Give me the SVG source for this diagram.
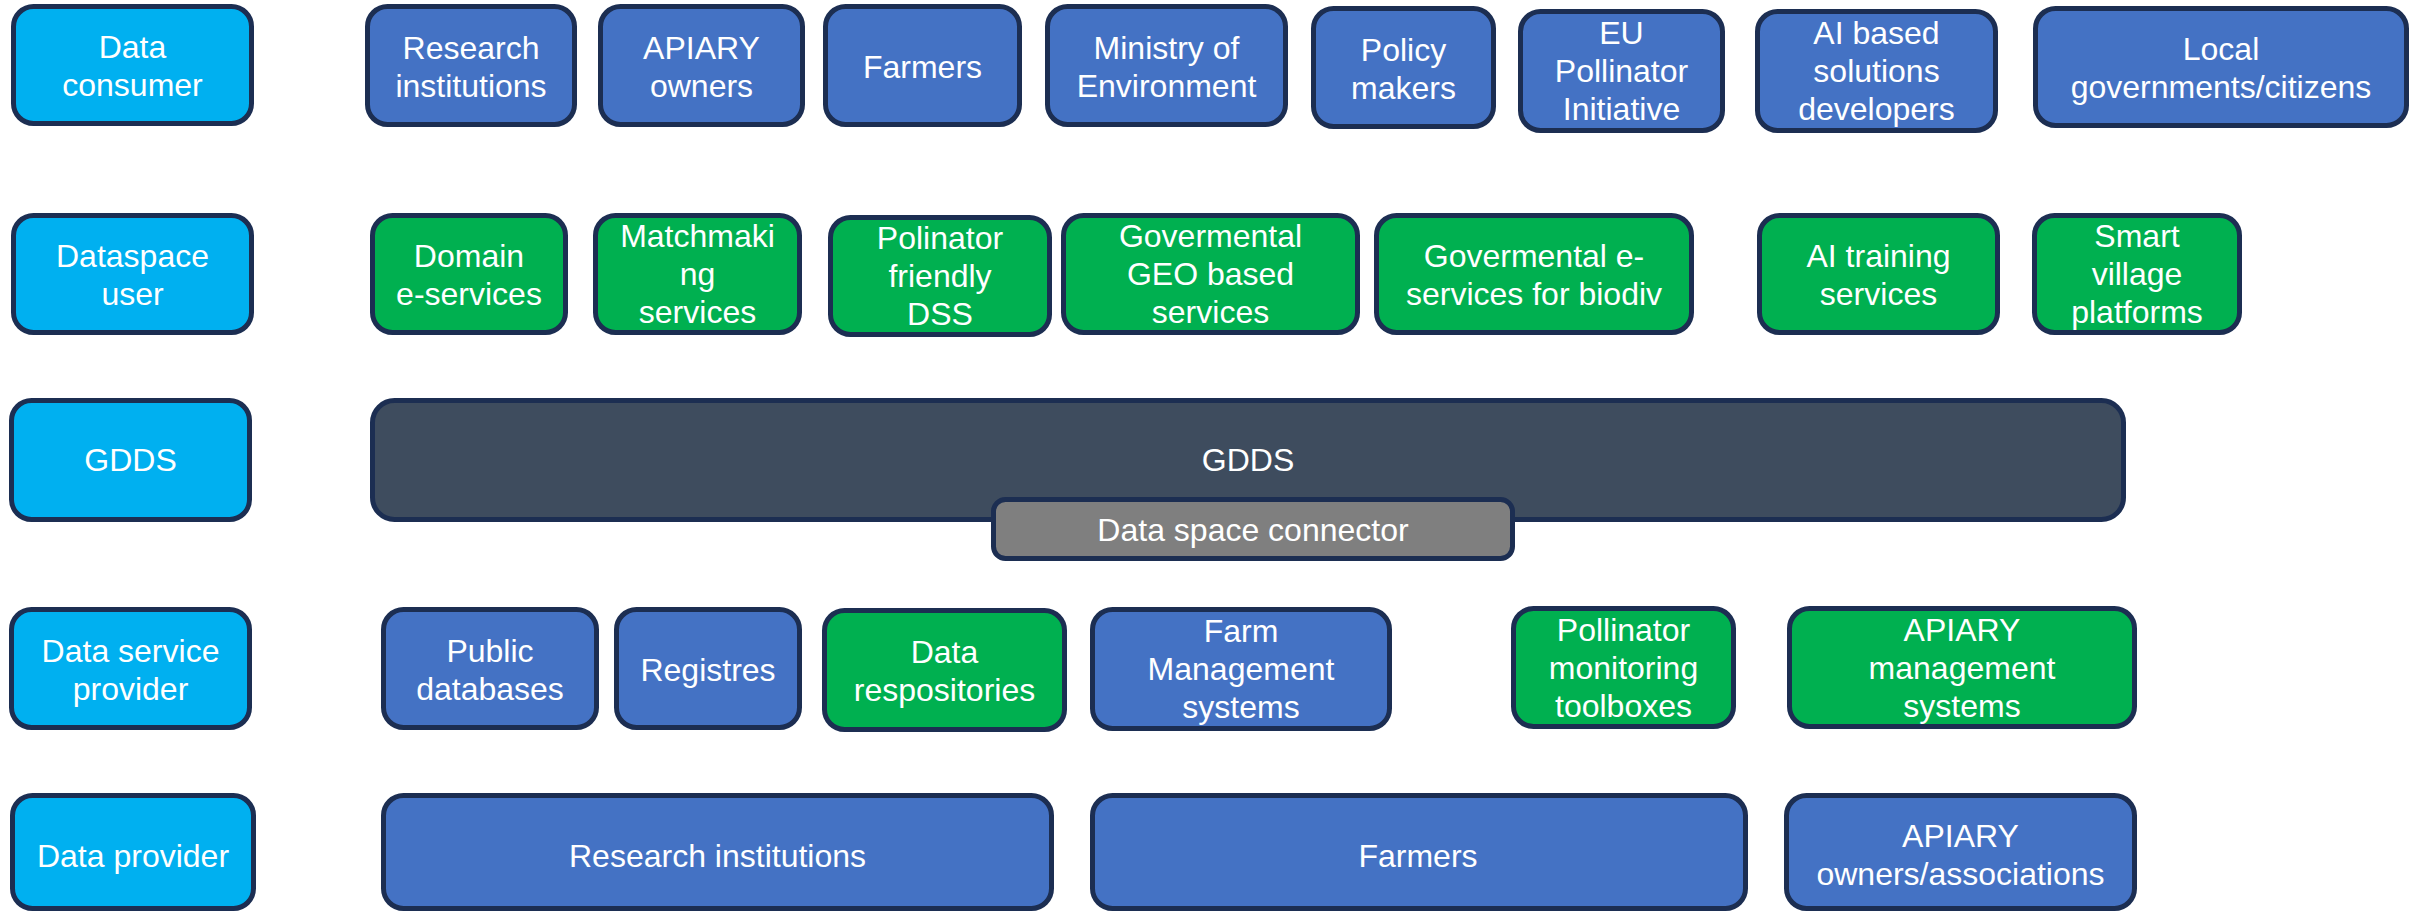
<svg xmlns="http://www.w3.org/2000/svg" width="2413" height="912" viewBox="0 0 2413 912">
  <style>
    g rect { stroke: #1C2E52; stroke-width: 5; }
    .role { fill: #00B0F0; }
    .actor { fill: #4472C4; }
    .svc { fill: #00B050; }
    .core { fill: #3E4C5E; }
    .conn { fill: #7F7F7F; }
    text { font-family: "Liberation Sans", Arial, sans-serif; font-size: 32px; fill: #FFFFFF; text-anchor: middle; }
  </style>
  <rect x="0" y="0" width="2413" height="912" fill="#FFFFFF"/>

  <!-- Row 1: data consumers -->
  <g id="data-consumer">
    <rect class="role" x="13.5" y="6.5" width="238" height="117" rx="20"/>
    <text><tspan x="132.5" y="58">Data</tspan><tspan x="132.5" y="96">consumer</tspan></text>
  </g>
  <g id="consumer-research">
    <rect class="actor" x="367.5" y="6.5" width="207" height="118" rx="20"/>
    <text><tspan x="471" y="58.5">Research</tspan><tspan x="471" y="96.5">institutions</tspan></text>
  </g>
  <g id="consumer-apiary">
    <rect class="actor" x="600.5" y="6.5" width="202" height="118" rx="20"/>
    <text><tspan x="701.5" y="58.5">APIARY</tspan><tspan x="701.5" y="96.5">owners</tspan></text>
  </g>
  <g id="consumer-farmers">
    <rect class="actor" x="825.5" y="6.5" width="194" height="118" rx="20"/>
    <text x="922.5" y="77.5">Farmers</text>
  </g>
  <g id="consumer-ministry">
    <rect class="actor" x="1047.5" y="6.5" width="238" height="118" rx="20"/>
    <text><tspan x="1166.5" y="58.5">Ministry of</tspan><tspan x="1166.5" y="96.5">Environment</tspan></text>
  </g>
  <g id="consumer-policy">
    <rect class="actor" x="1313.5" y="8.5" width="180" height="118" rx="20"/>
    <text><tspan x="1403.5" y="60.5">Policy</tspan><tspan x="1403.5" y="98.5">makers</tspan></text>
  </g>
  <g id="consumer-eu">
    <rect class="actor" x="1520.5" y="11.5" width="202" height="119" rx="20"/>
    <text><tspan x="1621.5" y="44">EU</tspan><tspan x="1621.5" y="82">Pollinator</tspan><tspan x="1621.5" y="120">Initiative</tspan></text>
  </g>
  <g id="consumer-ai">
    <rect class="actor" x="1757.5" y="11.5" width="238" height="119" rx="20"/>
    <text><tspan x="1876.5" y="44">AI based</tspan><tspan x="1876.5" y="82">solutions</tspan><tspan x="1876.5" y="120">developers</tspan></text>
  </g>
  <g id="consumer-local">
    <rect class="actor" x="2035.5" y="8.5" width="371" height="117" rx="20"/>
    <text><tspan x="2221" y="60">Local</tspan><tspan x="2221" y="98">governments/citizens</tspan></text>
  </g>

  <!-- Row 2: dataspace users -->
  <g id="dataspace-user">
    <rect class="role" x="13.5" y="215.5" width="238" height="117" rx="20"/>
    <text><tspan x="132.5" y="267">Dataspace</tspan><tspan x="132.5" y="305">user</tspan></text>
  </g>
  <g id="user-domain">
    <rect class="svc" x="372.5" y="215.5" width="193" height="117" rx="20"/>
    <text><tspan x="469" y="267">Domain</tspan><tspan x="469" y="305">e-services</tspan></text>
  </g>
  <g id="user-matchmaking">
    <rect class="svc" x="595.5" y="215.5" width="204" height="117" rx="20"/>
    <text><tspan x="697.5" y="247">Matchmaki</tspan><tspan x="697.5" y="285">ng</tspan><tspan x="697.5" y="323">services</tspan></text>
  </g>
  <g id="user-dss">
    <rect class="svc" x="830.5" y="217.5" width="219" height="117" rx="20"/>
    <text><tspan x="940" y="249">Polinator</tspan><tspan x="940" y="287">friendly</tspan><tspan x="940" y="325">DSS</tspan></text>
  </g>
  <g id="user-geo">
    <rect class="svc" x="1063.5" y="215.5" width="294" height="117" rx="20"/>
    <text><tspan x="1210.5" y="247">Govermental</tspan><tspan x="1210.5" y="285">GEO based</tspan><tspan x="1210.5" y="323">services</tspan></text>
  </g>
  <g id="user-biodiv">
    <rect class="svc" x="1376.5" y="215.5" width="315" height="117" rx="20"/>
    <text><tspan x="1534" y="267">Govermental e-</tspan><tspan x="1534" y="305">services for biodiv</tspan></text>
  </g>
  <g id="user-ai-training">
    <rect class="svc" x="1759.5" y="215.5" width="238" height="117" rx="20"/>
    <text><tspan x="1878.5" y="267">AI training</tspan><tspan x="1878.5" y="305">services</tspan></text>
  </g>
  <g id="user-smart-village">
    <rect class="svc" x="2034.5" y="215.5" width="205" height="117" rx="20"/>
    <text><tspan x="2137" y="247">Smart</tspan><tspan x="2137" y="285">village</tspan><tspan x="2137" y="323">platforms</tspan></text>
  </g>

  <!-- Row 3: GDDS layer -->
  <g id="gdds-label">
    <rect class="role" x="11.5" y="400.5" width="238" height="119" rx="20"/>
    <text x="130.5" y="471">GDDS</text>
  </g>
  <g id="gdds">
    <rect class="core" x="372.5" y="400.5" width="1751" height="119" rx="22"/>
    <text x="1248" y="471">GDDS</text>
  </g>
  <g id="connector-box">
    <rect class="conn" x="993.5" y="499.5" width="519" height="59" rx="12"/>
    <text x="1253" y="541">Data space connector</text>
  </g>

  <!-- Row 4: data service providers -->
  <g id="data-service-provider">
    <rect class="role" x="11.5" y="609.5" width="238" height="118" rx="20"/>
    <text><tspan x="130.5" y="661.5">Data service</tspan><tspan x="130.5" y="699.5">provider</tspan></text>
  </g>
  <g id="svc-public-db">
    <rect class="actor" x="383.5" y="609.5" width="213" height="118" rx="20"/>
    <text><tspan x="490" y="661.5">Public</tspan><tspan x="490" y="699.5">databases</tspan></text>
  </g>
  <g id="svc-registres">
    <rect class="actor" x="616.5" y="609.5" width="183" height="118" rx="20"/>
    <text x="708" y="680.5">Registres</text>
  </g>
  <g id="svc-repositories">
    <rect class="svc" x="824.5" y="610.5" width="240" height="119" rx="20"/>
    <text><tspan x="944.5" y="663">Data</tspan><tspan x="944.5" y="701">respositories</tspan></text>
  </g>
  <g id="svc-farm-mgmt">
    <rect class="actor" x="1092.5" y="609.5" width="297" height="119" rx="20"/>
    <text><tspan x="1241" y="642">Farm</tspan><tspan x="1241" y="680">Management</tspan><tspan x="1241" y="718">systems</tspan></text>
  </g>
  <g id="svc-pollinator">
    <rect class="svc" x="1513.5" y="608.5" width="220" height="118" rx="20"/>
    <text><tspan x="1623.5" y="640.5">Pollinator</tspan><tspan x="1623.5" y="678.5">monitoring</tspan><tspan x="1623.5" y="716.5">toolboxes</tspan></text>
  </g>
  <g id="svc-apiary-mgmt">
    <rect class="svc" x="1789.5" y="608.5" width="345" height="118" rx="20"/>
    <text><tspan x="1962" y="640.5">APIARY</tspan><tspan x="1962" y="678.5">management</tspan><tspan x="1962" y="716.5">systems</tspan></text>
  </g>

  <!-- Row 5: data providers -->
  <g id="data-provider">
    <rect class="role" x="12.5" y="795.5" width="241" height="113" rx="20"/>
    <text x="133" y="866.5">Data provider</text>
  </g>
  <g id="provider-research">
    <rect class="actor" x="383.5" y="795.5" width="668" height="113" rx="20"/>
    <text x="717.5" y="866.5">Research institutions</text>
  </g>
  <g id="provider-farmers">
    <rect class="actor" x="1092.5" y="795.5" width="653" height="113" rx="20"/>
    <text x="1418" y="866.5">Farmers</text>
  </g>
  <g id="provider-apiary">
    <rect class="actor" x="1786.5" y="795.5" width="348" height="113" rx="20"/>
    <text><tspan x="1960.5" y="847">APIARY</tspan><tspan x="1960.5" y="885">owners/associations</tspan></text>
  </g>

  <!-- the layers are stacked without links -->
  <g id="connectors"/>
</svg>
